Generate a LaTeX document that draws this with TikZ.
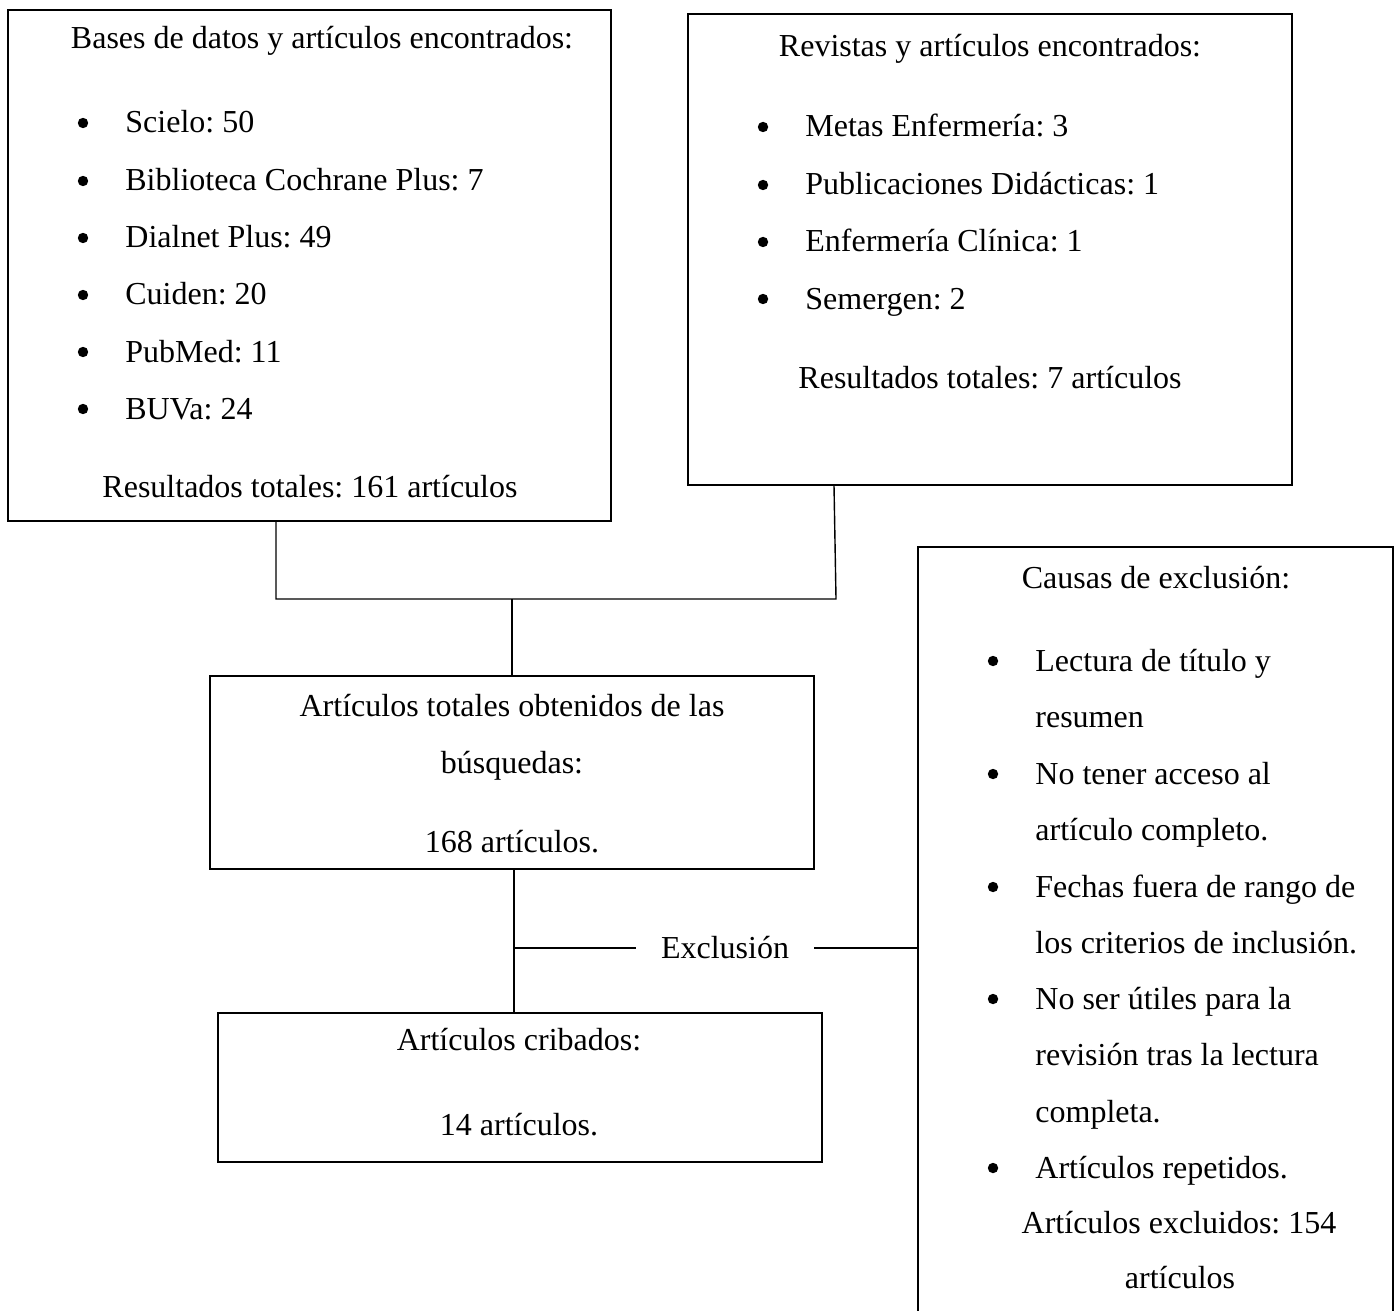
\documentclass[tikz,border=0pt]{standalone}
\usepackage{fontspec}
\setmainfont{Liberation Serif}
\usetikzlibrary{fit}
\frenchspacing
\begin{document}
\begin{tikzpicture}[x=.5pt,y=-.5pt,font=\fontsize{16}{19}\selectfont,
  box/.style={draw,line width=.7pt,inner sep=0},
  txt/.style={anchor=base,inner sep=0},
  item/.style={anchor=base west,inner sep=0},
  dot/.style={circle,fill,inner sep=0,minimum size=5.2pt}]
\useasboundingbox (0,0) rectangle (1400,1310);
% boxes
\node[box,fit={(8,10) (611,521)}] (bases) {};
\node[box,fit={(688,14) (1292,485)}] (revistas) {};
\node[box,fit={(918,547) (1393,1330)}] (causas) {};
\node[box,fit={(210,676) (814,869)}] (totales) {};
\node[box,fit={(218,1013) (822,1162)}] (cribados) {};
% bases de datos
\node[txt] (basestit) at (322,49) {Bases de datos y artículos encontrados:};
\foreach \y/\t [count=\i] in {133/Scielo: 50, 191/Biblioteca Cochrane Plus: 7, 248/Dialnet Plus: 49, 305/Cuiden: 20, 362/PubMed: 11, 419/BUVa: 24} {
  \node[dot] (bdp\i) at (83,\y-10) {};
  \node[item] (bd\i) at (125,\y) {\t};
}
\node[txt] (basesres) at (310,497) {Resultados totales: 161 artículos};
% revistas
\node[txt] (revtit) at (990,57) {Revistas y artículos encontrados:};
\foreach \y/\t [count=\i] in {137/Metas Enfermería: 3, 195/Publicaciones Didácticas: 1, 252/Enfermería Clínica: 1, 309/Semergen: 2} {
  \node[dot] (rvp\i) at (763,\y-10) {};
  \node[item] (rv\i) at (805,\y) {\t};
}
\node[txt] (revres) at (990,388) {Resultados totales: 7 artículos};
% causas de exclusion
\node[txt] (caustit) at (1156,588) {Causas de exclusión:};
\foreach \y [count=\i] in {671,784,897,1009,1178}
  \node[dot] (csp\i) at (993,\y-10) {};
\foreach \y/\t [count=\i] in {671/Lectura de título y, 727/resumen, 784/No tener acceso al, 840/artículo completo., 897/Fechas fuera de rango de, 953/los criterios de inclusión., 1009/No ser útiles para la, 1065/revisión tras la lectura, 1122/completa., 1178/Artículos repetidos.}
  \node[item] (cs\i) at (1035,\y) {\t};
\node[txt] (causres) at (1179,1233) {Artículos excluidos: 154};
\node[txt] (causres2) at (1180,1288) {artículos};
% totales y cribados
\node[txt] (tot1) at (512,716) {Artículos totales obtenidos de las};
\node[txt] (tot2) at (512,773) {búsquedas:};
\node[txt] (tot3) at (512,852) {168 artículos.};
\node[txt] (crib1) at (519,1050) {Artículos cribados:};
\node[txt] (crib2) at (519,1135) {14 artículos.};
% conectores
\coordinate (mergeL) at (276,599);
\coordinate (mergeR) at (836,599);
\coordinate (revfoot) at (834,0);
\draw[line width=.7pt] (bases.south -| mergeL) -- (mergeL) -- (mergeR) -- (revistas.south -| revfoot);
\draw[line width=.7pt] (mergeL -| totales) -- (totales.north);
\coordinate (excl) at (514,948);
\node[inner xsep=12.5pt,inner ysep=0] (exclusion) at (725,948) {Exclusión};
\draw[line width=.7pt] (totales.south -| excl) -- (cribados.north -| excl);
\draw[line width=.7pt] (excl) -- (excl -| exclusion.west);
\draw[line width=.7pt] (excl -| exclusion.east) -- (excl -| causas.west);
\end{tikzpicture}
\end{document}
